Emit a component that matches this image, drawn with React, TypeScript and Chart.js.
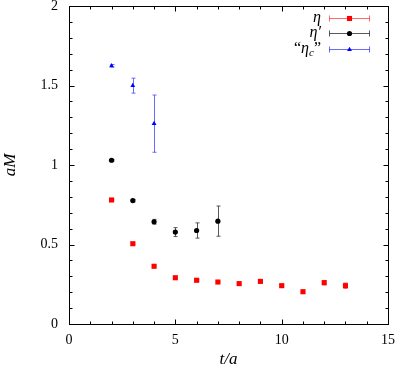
import React, { useEffect, useRef } from "react";
import { Chart, registerables } from "chart.js";

Chart.register(...registerables);

const etaT = [2, 3, 4, 5, 6, 7, 8, 9, 10, 11, 12, 13];
const etaM = [0.78, 0.505, 0.363, 0.291, 0.275, 0.264, 0.254, 0.268, 0.241, 0.203, 0.26, 0.241];
const etaErr = [0.005, 0.005, 0.006, 0.006, 0.006, 0.006, 0.006, 0.006, 0.008, 0.01, 0.014, 0.017];

const etaPrimeT = [2, 3, 4, 5, 6, 7];
const etaPrimeM = [1.03, 0.776, 0.643, 0.578, 0.588, 0.647];
const etaPrimeErr = [0.005, 0.008, 0.015, 0.028, 0.048, 0.095];

const etaCT = [2, 3, 4];
const etaCM = [1.624, 1.499, 1.26];
const etaCErr = [0.008, 0.047, 0.18];

const xTickLabels = ["0", "5", "10", "15"];
const yTickLabels = ["0", "0.5", "1", "1.5", "2"];

const FONT = "'Liberation Serif', 'DejaVu Serif', serif";

const seriesStyle = [
  { color: "#ff0000", err: "rgba(255,80,80,0.85)", style: "rect", r: 3.6 },
  { color: "#000000", err: "rgba(60,60,60,0.85)", style: "circle", r: 2.6 },
  { color: "#0000ff", err: "rgba(80,80,255,0.85)", style: "triangle", r: 2.8 },
];
const errs = [etaErr, etaPrimeErr, etaCErr];

function drawMarker(ctx: any, style: string, r: number, x: number, y: number) {
  ctx.beginPath();
  if (style === "rect") {
    const s = Math.SQRT1_2 * r;
    ctx.rect(x - s, y - s, 2 * s, 2 * s);
  } else if (style === "circle") {
    ctx.arc(x, y, r, 0, Math.PI * 2);
  } else {
    ctx.moveTo(x, y - r);
    ctx.lineTo(x + r * 0.87, y + r * 0.5);
    ctx.lineTo(x - r * 0.87, y + r * 0.5);
    ctx.closePath();
  }
  ctx.fill();
}

const overlay = {
  id: "overlay",
  beforeDatasetsDraw(chart: any) {
    const ctx = chart.ctx;
    const xs = chart.scales.x;
    const ys = chart.scales.y;
    ctx.save();
    chart.data.datasets.forEach((ds: any, i: number) => {
      ctx.strokeStyle = seriesStyle[i].err;
      ctx.lineWidth = 1;
      ds.data.forEach((p: any, j: number) => {
        const e = errs[i][j];
        const px = Math.round(xs.getPixelForValue(p.x)) + 0.5;
        const y1 = ys.getPixelForValue(p.y - e);
        const y2 = ys.getPixelForValue(p.y + e);
        ctx.beginPath();
        ctx.moveTo(px, y1);
        ctx.lineTo(px, y2);
        ctx.moveTo(px - 2, y1);
        ctx.lineTo(px + 2, y1);
        ctx.moveTo(px - 2, y2);
        ctx.lineTo(px + 2, y2);
        ctx.stroke();
      });
    });
    ctx.restore();
  },
  afterDraw(chart: any) {
    const ctx = chart.ctx;
    const a = chart.chartArea;
    const xs = chart.scales.x;
    const ys = chart.scales.y;
    ctx.save();
    ctx.strokeStyle = "#000";
    ctx.lineWidth = 1;
    const L = Math.round(a.left) + 0.5;
    const R = Math.round(a.right) + 0.5;
    const T = Math.round(a.top) + 0.5;
    const B = Math.round(a.bottom) + 0.5;
    ctx.strokeRect(L, T, R - L, B - T);
    ctx.beginPath();
    for (let v = 0; v <= 15; v += 1) {
      const px = Math.round(xs.getPixelForValue(v)) + 0.5;
      const len = v % 5 === 0 ? 5 : 3;
      ctx.moveTo(px, B);
      ctx.lineTo(px, B - len);
      ctx.moveTo(px, T);
      ctx.lineTo(px, T + len);
    }
    for (let k = 0; k <= 20; k += 1) {
      const v = k / 10;
      const py = Math.round(ys.getPixelForValue(v)) + 0.5;
      const len = k % 5 === 0 ? 5 : 3;
      ctx.moveTo(L, py);
      ctx.lineTo(L + len, py);
      ctx.moveTo(R, py);
      ctx.lineTo(R - len, py);
    }
    ctx.stroke();

    // axis titles
    ctx.fillStyle = "#000";
    ctx.font = `italic 17px ${FONT}`;
    ctx.textAlign = "center";
    ctx.textBaseline = "middle";
    ctx.fillText("t/a", (a.left + a.right) / 2, 360);
    ctx.save();
    ctx.translate(11, (a.top + a.bottom) / 2);
    ctx.rotate(-Math.PI / 2);
    ctx.fillText("aM", 0, 0);
    ctx.restore();

    // legend
    const rows = [18.5, 33.5, 49.5];
    const x1 = 329;
    const x2 = 370;
    const textRight = 321;
    rows.forEach((ry, i) => {
      const st = seriesStyle[i];
      ctx.strokeStyle = st.err;
      ctx.beginPath();
      ctx.moveTo(x1, ry);
      ctx.lineTo(x2, ry);
      ctx.moveTo(x1 + 0.5, ry - 3);
      ctx.lineTo(x1 + 0.5, ry + 3);
      ctx.moveTo(x2 - 0.5, ry - 3);
      ctx.lineTo(x2 - 0.5, ry + 3);
      ctx.stroke();
      ctx.fillStyle = st.color;
      drawMarker(ctx, st.style, st.r, (x1 + x2) / 2, ry);
    });
    ctx.fillStyle = "#000";
    ctx.textAlign = "right";
    ctx.textBaseline = "alphabetic";
    ctx.font = `italic 16px ${FONT}`;
    ctx.fillText("η", textRight, rows[0] + 3);
    ctx.fillText("η′", textRight, rows[1] + 3);
    ctx.font = `16px ${FONT}`;
    const q2 = "”";
    const q2w = ctx.measureText(q2).width;
    ctx.fillText(q2, textRight, rows[2] + 3);
    ctx.font = `italic 11px ${FONT}`;
    const cw = ctx.measureText("c").width;
    ctx.fillText("c", textRight - q2w, rows[2] + 6);
    ctx.font = `italic 16px ${FONT}`;
    const ew = ctx.measureText("η").width;
    ctx.fillText("η", textRight - q2w - cw, rows[2] + 3);
    ctx.font = `16px ${FONT}`;
    ctx.fillText("“", textRight - q2w - cw - ew, rows[2] + 3);
    ctx.restore();
  },
};

export default function App() {
  const ref = useRef<HTMLCanvasElement>(null);
  useEffect(() => {
    if (!ref.current) return;
    const mk = (xsArr: number[], ysArr: number[]) => xsArr.map((x, i) => ({ x, y: ysArr[i] }));
    const zeroPad = (s: any) => {
      s.paddingTop = 0;
      s.paddingBottom = 0;
      s.paddingLeft = 0;
      s.paddingRight = 0;
    };
    const chart = new Chart(ref.current, {
      type: "scatter",
      data: {
        datasets: [
          { label: "η", data: mk(etaT, etaM) },
          { label: "η′", data: mk(etaPrimeT, etaPrimeM) },
          { label: "“ηc”", data: mk(etaCT, etaCM) },
        ].map((d, i) => ({
          ...d,
          pointStyle: seriesStyle[i].style as any,
          pointRadius: seriesStyle[i].r,
          backgroundColor: seriesStyle[i].color,
          borderColor: seriesStyle[i].color,
          borderWidth: 0,
          showLine: false,
        })),
      },
      options: {
        animation: false,
        responsive: false,
        maintainAspectRatio: false,
        layout: { padding: { top: 6, right: 10, left: 0, bottom: 0 } },
        plugins: { legend: { display: false }, tooltip: { enabled: false } },
        scales: {
          x: {
            type: "linear",
            min: 0,
            max: 15,
            grid: { display: false },
            border: { display: false },
            ticks: {
              stepSize: 5,
              padding: 1,
              color: "#000",
              font: { family: FONT, size: 14, lineHeight: 1 },
              callback: (v: any) => xTickLabels[Math.round(Number(v) / 5)] ?? "",
            },
            afterFit: (s: any) => {
              s.height = 47;
              zeroPad(s);
            },
          },
          y: {
            type: "linear",
            min: 0,
            max: 2,
            grid: { display: false },
            border: { display: false },
            ticks: {
              stepSize: 0.5,
              padding: 3,
              color: "#000",
              font: { family: FONT, size: 14 },
              callback: (v: any) => yTickLabels[Math.round(Number(v) * 2)] ?? "",
            },
            afterFit: (s: any) => {
              s.width = 69;
              zeroPad(s);
            },
          },
        },
      },
      plugins: [overlay],
    });
    return () => chart.destroy();
  }, []);
  return (
    <div style={{ position: "absolute", left: 0, top: 0, width: 398, height: 371, background: "#fff" }}>
      <canvas ref={ref} width={398} height={371} style={{ display: "block", width: 398, height: 371 }} />
    </div>
  );
}
